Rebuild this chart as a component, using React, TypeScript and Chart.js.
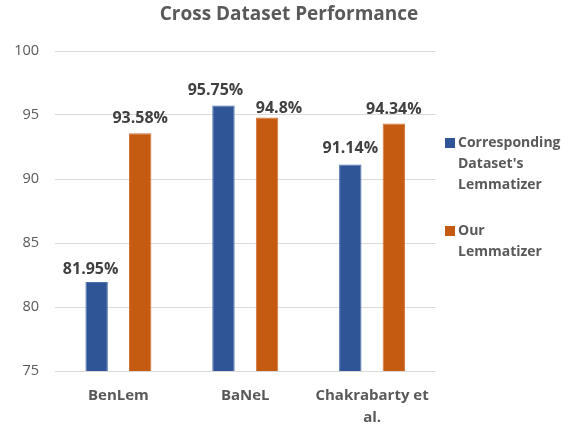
import React, { useEffect, useRef } from "react";
import { Chart, registerables } from "chart.js";

Chart.register(...registerables);

const categories: (string | string[])[] = ["BenLem", "BaNeL", ["Chakrabarty et", "al."]];
const correspondingValues = [81.95, 95.75, 91.14];
const ourValues = [93.58, 94.8, 94.34];
const seriesNames = [["Corresponding", "Dataset's", "Lemmatizer"], ["Our", "Lemmatizer"]];
const yTicks = [75, 80, 85, 90, 95, 100];
const titleText = "Cross Dataset Performance";

const BLUE = "#2F5597";
const ORANGE = "#C55A11";
const GREY = "#595959";
const FONT = "'Open Sans', sans-serif";

// label nudges (style only), per dataset per category
const labelDx = [[-6, -8, 0], [0, 12, 0]];
const labelDy = [[13, 15, 16], [15, 9, 14]];

const decorPlugin = {
  id: "decor",
  afterDatasetsDraw(chart: any) {
    const ctx = chart.ctx;
    ctx.save();
    ctx.font = `700 16px ${FONT}`;
    ctx.fillStyle = "#404040";
    ctx.textAlign = "center";
    ctx.textBaseline = "middle";
    chart.data.datasets.forEach((ds: any, di: number) => {
      const meta = chart.getDatasetMeta(di);
      meta.data.forEach((bar: any, i: number) => {
        const v = ds.data[i];
        ctx.fillText(`${v}%`, bar.x + labelDx[di][i], bar.y - labelDy[di][i]);
      });
    });
    ctx.restore();
  },
  afterDraw(chart: any) {
    const ctx = chart.ctx;
    ctx.save();
    // title
    ctx.font = `700 19px ${FONT}`;
    ctx.fillStyle = GREY;
    ctx.textAlign = "center";
    ctx.textBaseline = "middle";
    ctx.fillText(titleText, 289, 15);
    // legend
    const colors = [BLUE, ORANGE];
    const starts = [143, 231];
    ctx.font = `700 14px ${FONT}`;
    ctx.textAlign = "left";
    seriesNames.forEach((lines, si) => {
      const y0 = starts[si];
      ctx.fillStyle = colors[si];
      ctx.fillRect(445, y0 - 5, 10, 10);
      ctx.fillStyle = GREY;
      lines.forEach((ln, li) => {
        ctx.fillText(ln, 458, y0 + li * 21);
      });
    });
    ctx.restore();
  },
};

export default function App() {
  const ref = useRef<HTMLCanvasElement | null>(null);
  useEffect(() => {
    if (!ref.current) return;
    const chart = new Chart(ref.current, {
      type: "bar",
      data: {
        labels: categories,
        datasets: [
          {
            label: seriesNames[0].join(" "),
            data: correspondingValues,
            backgroundColor: BLUE,
            borderColor: "#4A6FAE",
            borderWidth: 1,
            categoryPercentage: 0.687,
            barPercentage: 0.515,
          },
          {
            label: seriesNames[1].join(" "),
            data: ourValues,
            backgroundColor: ORANGE,
            borderColor: "#D2733A",
            borderWidth: 1,
            categoryPercentage: 0.687,
            barPercentage: 0.515,
          },
        ],
      },
      options: {
        animation: false,
        responsive: false,
        maintainAspectRatio: false,
        layout: { padding: { top: 51, right: 136.5, left: 0, bottom: 0 } },
        plugins: {
          legend: { display: false },
          title: { display: false },
          tooltip: { enabled: false },
        },
        scales: {
          x: {
            grid: { display: false, drawTicks: false },
            border: { display: false },
            ticks: {
              padding: 14,
              color: GREY,
              font: { family: FONT, size: 15, weight: "bold", lineHeight: 22 / 15 },
              maxRotation: 0,
              autoSkip: false,
            },
            afterFit: (s: any) => {
              s.height = 59;
            },
          },
          y: {
            min: yTicks[0],
            max: yTicks[yTicks.length - 1],
            afterBuildTicks: (s: any) => {
              s.ticks = yTicks.map((v) => ({ value: v }));
            },
            grid: { color: "#D9D9D9", drawTicks: false, lineWidth: 1 },
            border: { display: false },
            ticks: {
              padding: 16,
              color: GREY,
              font: { family: FONT, size: 14.5 },
            },
            afterFit: (s: any) => {
              s.width = 55;
            },
          },
        },
      },
      plugins: [decorPlugin],
    } as any);
    return () => chart.destroy();
  }, []);
  return (
    <div style={{ position: "fixed", left: 0, top: 0, width: 572, height: 430, background: "#fff" }}>
      <canvas ref={ref} width={572} height={430} style={{ display: "block", width: 572, height: 430 }} />
    </div>
  );
}
